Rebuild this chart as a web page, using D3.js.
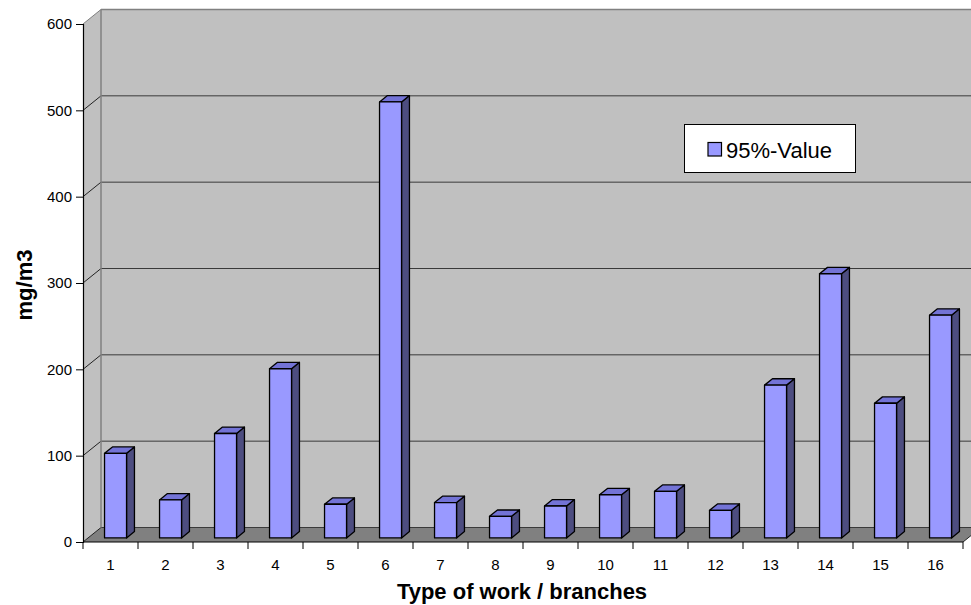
<!DOCTYPE html>
<html><head><meta charset="utf-8">
<script src="https://cdn.jsdelivr.net/npm/d3@7"></script>
<style>body{margin:0;background:#fff}svg{display:block;font-family:"Liberation Sans",Arial,sans-serif}</style>
</head><body>
<svg id="c" width="971" height="605"></svg>
<script>
const categories = ["1","2","3","4","5","6","7","8","9","10","11","12","13","14","15","16"];
const values = [98, 44, 121, 196, 39, 505, 41, 25, 37, 50, 54, 32, 177, 306, 156, 258];
const yTicks = [0, 100, 200, 300, 400, 500, 600];
const seriesName = "95%-Value";
const xTitle = "Type of work / branches";
const yTitle = "mg/m3";

const svg = d3.select("#c");
const X0 = 83, X1 = 963, Y0 = 542, Ytop = 24;
const DX = 18, DY = 14.5;
const zf = 0.28, zb = 0.72;

const x = d3.scaleBand().domain(categories).range([X0, X1]).paddingInner(0.6).paddingOuter(0.3);
const y = d3.scaleLinear().domain([0, 600]).range([Y0, Ytop]);

// back wall
svg.append("polygon")
  .attr("points", [[X0+DX, y(600)-DY],[1000, y(600)-DY],[1000, Y0-DY],[X0+DX, Y0-DY]].join(" "))
  .attr("fill", "#c0c0c0");
// left side wall
svg.append("polygon")
  .attr("points", [[X0, y(600)],[X0+DX, y(600)-DY],[X0+DX, Y0-DY],[X0, Y0]].join(" "))
  .attr("fill", "#c0c0c0");
// floor
svg.append("polygon")
  .attr("points", [[X0, Y0],[X0+DX, Y0-DY],[X1+DX, Y0-DY],[X1, Y0]].join(" "))
  .attr("fill", "#808080");

// gridlines on back wall and left wall
yTicks.forEach(t => {
  if (t < 600) {
    svg.append("line").attr("x1", X0+DX).attr("x2", 971).attr("y1", y(t)-DY).attr("y2", y(t)-DY)
      .attr("stroke", "#3a3a3a").attr("stroke-width", 1);
  }
  svg.append("line").attr("x1", X0).attr("y1", y(t)).attr("x2", X0+DX).attr("y2", y(t)-DY)
    .attr("stroke", t === 600 ? "#808080" : "#222").attr("stroke-width", 1);
});
// wall edges
svg.append("line").attr("x1", X0+DX).attr("x2", X0+DX).attr("y1", y(600)-DY).attr("y2", Y0-DY)
  .attr("stroke", "#808080").attr("stroke-width", 1.5);
svg.append("line").attr("x1", X0+DX).attr("x2", 971).attr("y1", y(600)-DY).attr("y2", y(600)-DY)
  .attr("stroke", "#808080").attr("stroke-width", 1.5);
svg.append("line").attr("x1", X1).attr("y1", Y0).attr("x2", X1+DX).attr("y2", Y0-DY)
  .attr("stroke", "#222").attr("stroke-width", 1);

// bars
const bw = x.bandwidth();
const bd = (zb - zf);
categories.forEach((c, i) => {
  const v = values[i];
  const xl = x(c) + zf*DX, xr = xl + bw;
  const yb = y(0) - zf*DY, yt = y(v) - zf*DY;
  const ox = bd*DX, oy = bd*DY;
  const g = svg.append("g").attr("stroke", "#000").attr("stroke-width", 1.3).attr("stroke-linejoin", "round");
  g.append("polygon").attr("points", [[xr, yb],[xr, yt],[xr+ox, yt-oy],[xr+ox, yb-oy]].join(" ")).attr("fill", "#4d4d80");
  g.append("polygon").attr("points", [[xl, yt],[xr, yt],[xr+ox, yt-oy],[xl+ox, yt-oy]].join(" ")).attr("fill", "#7373d6");
  g.append("rect").attr("x", xl).attr("y", yt).attr("width", bw).attr("height", yb-yt).attr("fill", "#9999ff");
});

// y axis
const yAxis = svg.append("g").attr("transform", `translate(${X0},0)`)
  .call(d3.axisLeft(y).tickValues(yTicks).tickSize(7).tickPadding(4).tickFormat(d3.format("d")));
yAxis.select(".domain").attr("stroke", "#000").attr("stroke-width", 1.2);
yAxis.selectAll(".tick line").attr("stroke", "#000");
yAxis.selectAll("text").attr("font-size", 15).attr("fill", "#000").attr("font-family", "Liberation Sans, Arial, sans-serif");

// x axis line and boundary ticks
svg.append("line").attr("x1", X0).attr("x2", X1).attr("y1", Y0).attr("y2", Y0).attr("stroke", "#000").attr("stroke-width", 1.2);
d3.range(categories.length + 1).forEach(i => {
  const bx = X0 + i * x.step();
  svg.append("line").attr("x1", bx).attr("x2", bx).attr("y1", Y0).attr("y2", Y0+7).attr("stroke", "#000");
});
const xAxis = svg.append("g").attr("transform", `translate(0,${Y0})`)
  .call(d3.axisBottom(x).tickSize(0).tickPadding(17));
xAxis.select(".domain").remove();
xAxis.selectAll("text").attr("font-size", 15).attr("fill", "#000").attr("font-family", "Liberation Sans, Arial, sans-serif");

// titles
svg.append("text").attr("x", 522).attr("y", 599).attr("text-anchor", "middle")
  .attr("font-weight", "bold").attr("font-size", 22).text(xTitle);
svg.append("text").attr("transform", "translate(32,285) rotate(-90)").attr("text-anchor", "middle")
  .attr("font-weight", "bold").attr("font-size", 22).text(yTitle);

// legend
const lg = svg.append("g");
lg.append("rect").attr("x", 684.5).attr("y", 124.5).attr("width", 171).attr("height", 48)
  .attr("fill", "#fff").attr("stroke", "#000").attr("stroke-width", 1);
lg.append("rect").attr("x", 708).attr("y", 142.5).attr("width", 13.5).attr("height", 13.5)
  .attr("fill", "#9999ff").attr("stroke", "#000").attr("stroke-width", 1.2);
lg.append("text").attr("x", 726).attr("y", 157.5).attr("font-size", 22).text(seriesName);
</script>
</body></html>
